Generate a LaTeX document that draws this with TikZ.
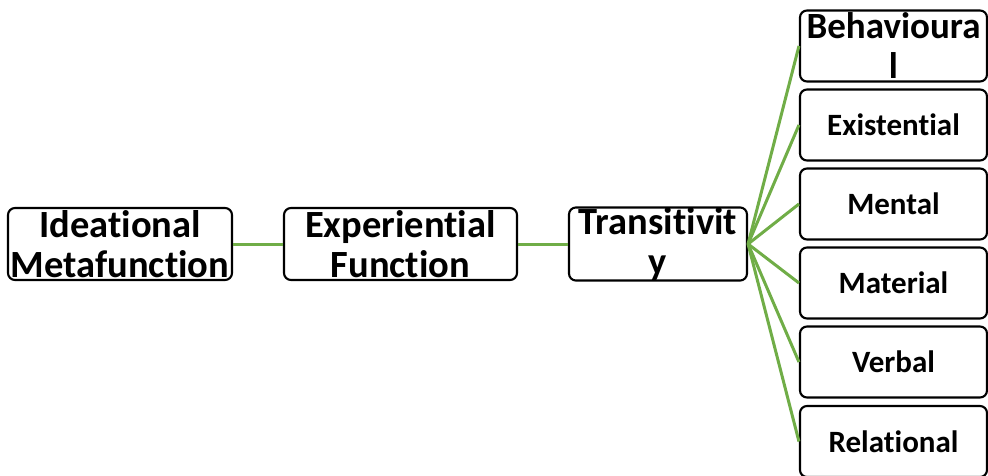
\documentclass[tikz,border=0pt]{standalone}
\usepackage{fontspec}
\setmainfont{Carlito}[Ligatures={NoCommon}, RawFeature={-liga;-clig;-dlig}]
\begin{document}
\begin{tikzpicture}[x=1pt,y=-1pt,
  box/.style={draw=black,line width=2.1pt,rounded corners=7pt,fill=white,
    inner sep=0pt,align=center,font=\bfseries},
  big/.style={box,font=\bfseries\fontsize{38.5}{40}\selectfont},
  leaf/.style={box,minimum width=187pt,minimum height=71pt,
    font=\bfseries\fontsize{31}{40}\selectfont},
  conn/.style={draw={rgb,255:red,112;green,173;blue,71},line width=3pt}]
  \useasboundingbox (0,0) rectangle (988,476);
  % main chain
  \node[big,minimum width=224pt,minimum height=72pt] (ide) at (120,244) {Ideational\\Metafunction};
  \node[big,minimum width=233pt,minimum height=72pt] (exp) at (400.5,244) {Experiential\\Function};
  \node[big,minimum width=178pt,minimum height=72pt] (tra) at (658,244) {Transitivit\\y};
  % process types
  \node[leaf,font=\bfseries\fontsize{37}{40}\selectfont] (beh) at (893.5,46) {Behavioura\\l};
  \node[leaf] (exi) at (893.5,125) {Existential};
  \node[leaf] (men) at (893.5,204) {Mental};
  \node[leaf] (mat) at (893.5,283) {Material};
  \node[leaf] (ver) at (893.5,362) {Verbal};
  \node[leaf] (rel) at (893.5,441.5) {Relational};
  % connectors
  \draw[conn] (ide.east) -- (exp.west);
  \draw[conn] (exp.east) -- (tra.west);
  \foreach \n in {beh,exi,men,mat,ver,rel}
    \draw[conn] (tra.east) -- (\n.west);
\end{tikzpicture}
\end{document}
